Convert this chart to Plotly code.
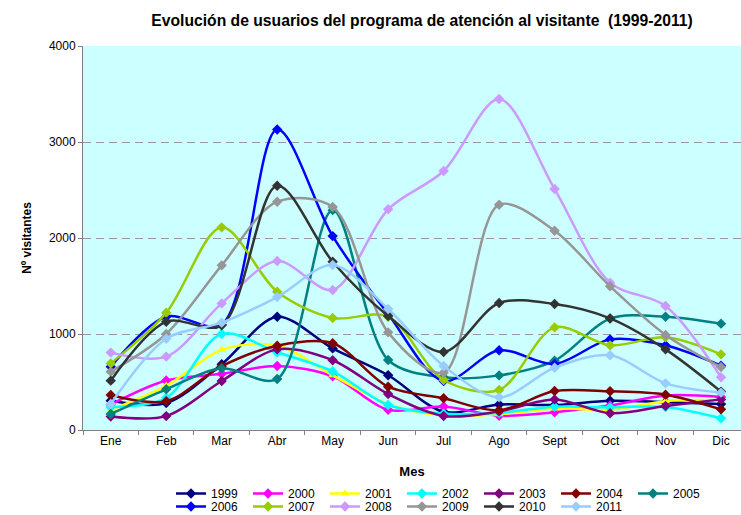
import plotly.graph_objects as go

# Months (x categories)
months = ["Ene", "Feb", "Mar", "Abr", "May", "Jun", "Jul", "Ago", "Sept", "Oct", "Nov", "Dic"]

# Monthly visitors per year
v1999 = [305, 280, 685, 1180, 850, 570, 190, 265, 260, 305, 290, 270]
v2000 = [265, 515, 585, 667, 560, 210, 245, 148, 185, 255, 360, 345]
v2001 = [210, 460, 835, 880, 570, 270, 150, 165, 225, 210, 300, 310]
v2002 = [240, 335, 1000, 810, 610, 260, 170, 180, 243, 236, 240, 122]
v2003 = [140, 145, 510, 840, 727, 375, 146, 194, 319, 174, 250, 319]
v2004 = [365, 300, 665, 878, 903, 451, 330, 205, 406, 403, 368, 215]
v2005 = [167, 424, 642, 531, 2290, 729, 549, 569, 722, 1160, 1180, 1108]
v2006 = [660, 1180, 1100, 3130, 2020, 1208, 510, 830, 688, 944, 882, 670]
v2007 = [694, 1222, 2111, 1441, 1167, 1180, 521, 417, 1069, 882, 965, 788]
v2008 = [806, 764, 1319, 1760, 1458, 2299, 2698, 3448, 2510, 1535, 1292, 549]
v2009 = [608, 1000, 1715, 2378, 2323, 1017, 597, 2347, 2076, 1497, 990, 656]
v2010 = [514, 1128, 1090, 2545, 1753, 1188, 813, 1323, 1312, 1163, 840, 400]
v2011 = [271, 950, 1118, 1385, 1719, 1260, 667, 340, 649, 778, 486, 389]

years = ["1999", "2000", "2001", "2002", "2003", "2004", "2005",
         "2006", "2007", "2008", "2009", "2010", "2011"]
values = [v1999, v2000, v2001, v2002, v2003, v2004, v2005,
          v2006, v2007, v2008, v2009, v2010, v2011]
colors = ["#000080", "#FF00FF", "#FFFF00", "#00FFFF", "#800080", "#800000", "#008080",
          "#0000FF", "#99CC00", "#CC99FF", "#969696", "#333333", "#99CCFF"]
symbols = ["diamond", "diamond", "triangle-up", "diamond", "diamond", "diamond", "diamond",
           "diamond", "diamond", "diamond", "diamond", "diamond", "diamond"]

fig = go.Figure()
for i, (yr, vals, col, sym) in enumerate(zip(years, values, colors, symbols)):
    fig.add_trace(go.Scatter(
        x=months, y=vals, name=yr, mode="lines+markers",
        line=dict(color=col, width=2.5, shape="spline", smoothing=0.9),
        marker=dict(symbol=sym, size=8, color=col),
        legend="legend" if i < 7 else "legend2",
    ))

font_family = "Liberation Sans, Arial, sans-serif"
legend_common = dict(
    orientation="h", xref="container", yref="container",
    xanchor="left", yanchor="top", itemwidth=30,
    entrywidth=32, entrywidthmode="pixels",
    font=dict(family=font_family, size=12, color="#000000"),
    bgcolor="rgba(0,0,0,0)", tracegroupgap=0,
)

fig.update_layout(
    width=741, height=515,
    margin=dict(l=83, r=0, t=46, b=85),
    paper_bgcolor="#FFFFFF",
    plot_bgcolor="#CCFFFF",
    font=dict(family=font_family, size=12, color="#000000"),
    title=dict(
        text="<b>Evolución de usuarios del programa de atención al visitante  (1999-2011)</b>",
        x=422 / 741, xanchor="center", xref="container",
        y=1 - 21 / 515, yanchor="middle", yref="container",
        font=dict(family=font_family, size=15.7, color="#000000"),
    ),
    xaxis=dict(
        type="category", range=[-0.5, 11.36],
        showline=True, linecolor="#808080", linewidth=1,
        ticks="outside", tickson="boundaries", ticklen=4, tickcolor="#808080",
        showgrid=False, zeroline=False,
        tickfont=dict(size=12),
        title=dict(text="<b>Mes</b>", font=dict(size=13), standoff=20),
    ),
    yaxis=dict(
        range=[0, 4000], dtick=1000,
        showline=True, linecolor="#808080", linewidth=1,
        ticks="outside", ticklen=4, tickcolor="#808080",
        showgrid=True, gridcolor="#999999", griddash="8px,5px", gridwidth=1,
        zeroline=False,
        tickfont=dict(size=12),
        title=dict(text="<b>Nº visitantes</b>", font=dict(size=12), standoff=14),
    ),
    legend=dict(x=171 / 741, y=1 - 479 / 515, **legend_common),
    legend2=dict(x=171 / 741, y=1 - 492 / 515, **legend_common),
)

fig.write_html("out.html")
